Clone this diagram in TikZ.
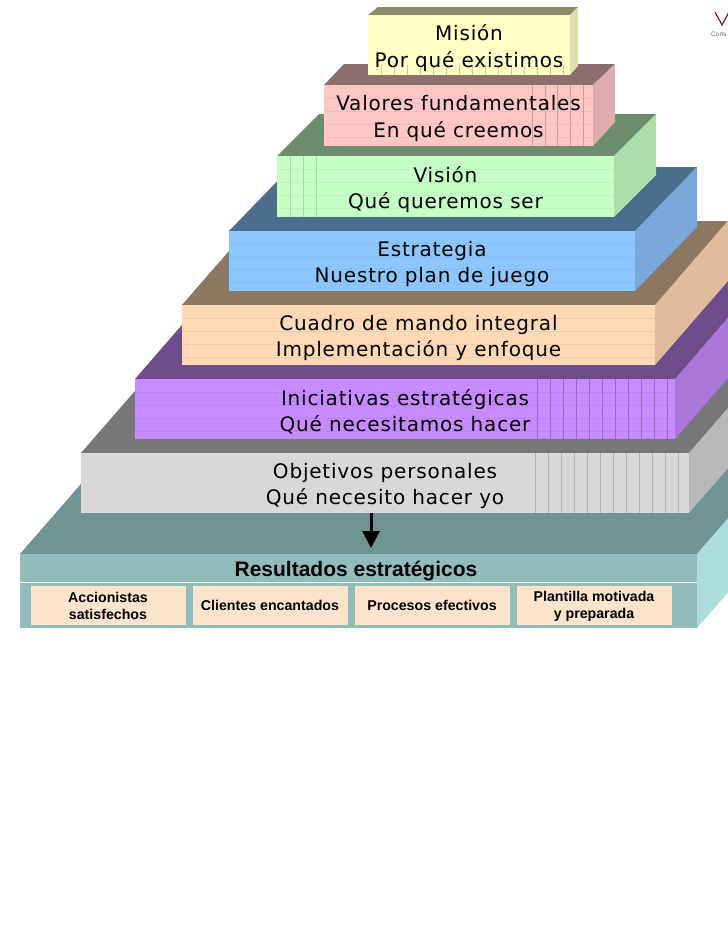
\documentclass[tikz,border=0pt]{standalone}
\usepackage{fontspec}
\usepackage{tikz}
\usetikzlibrary{arrows.meta}
\usetikzlibrary{positioning}
\newfontfamily\bloquefont[LetterSpace=4]{DejaVu Sans}
\newfontfamily\baseFont{Liberation Sans}
\definecolor{misionC}{HTML}{FFFFC6}
\definecolor{valoresC}{HTML}{FFC6C6}
\definecolor{visionC}{HTML}{C6FFC6}
\definecolor{estrategiaC}{HTML}{8CC6FF}
\definecolor{cuadroC}{HTML}{FFD8B4}
\definecolor{iniciativasC}{HTML}{C68CFF}
\definecolor{objetivosC}{HTML}{D8D8D8}
\definecolor{baseC}{HTML}{90BCBC}
\definecolor{ladoC}{HTML}{ACDCDC}
\definecolor{cajaC}{HTML}{FCE4CC}
\tikzstyle{bloque}=[
        inner sep=0pt,
        minimum height=60pt,
        align=center,
        text=black,
        font=\fontsize{20}{26.5}\bloquefont
]
\tikzstyle{texto}=[bloque,yshift=-3pt]
\tikzstyle{caja}=[
        inner sep=0pt,
        minimum height=39pt,
        minimum width=155pt,
        align=center,
        fill=cajaC,
        font=\fontsize{14.2}{17}\baseFont\bfseries
]
\tikzstyle{flecha}=[-{Triangle[length=17pt,width=17pt]},line width=3pt]
\begin{document}
\begin{tikzpicture}[x=1pt,y=-1pt]
\clip (0,0) rectangle (728,943);
%Logo
\draw[line width=1pt,color=black!20!red!50!black] (715,12) -- (722,25) -- (729,12);
\node[inner sep=0pt,anchor=west,text=black!60,font=\fontsize{6.5}{7}\baseFont] (logo) at (711,34) {Cons};
%Base
\fill[color=baseC!78!black] (20,554) -- (107,454) -- (784,454) -- (697,554) -- cycle;
\fill[color=ladoC] (697,554) -- (784,454) -- (784,528) -- (697,628) -- cycle;
\node[inner sep=0pt,minimum width=677pt,minimum height=74pt,fill=baseC] (base) at (358.5,591) {};
\draw[white] (20,582) -- (697,582);
\node[inner sep=0pt,font=\fontsize{21}{23}\baseFont\bfseries] (resultados) at (356,571) {Resultados estratégicos};
\node[caja] (accionistas) at (108,605) {};
\node[caja] (clientes) at (270,605) {Clientes encantados};
\node[caja] (procesos) at (432,605) {Procesos efectivos};
\node[caja] (plantilla) at (594,605) {};
\node[caja,fill=none,yshift=-1pt] (accionistastxt) at (108,605) {Accionistas\\satisfechos};
\node[caja,fill=none,yshift=-1pt] (plantillatxt) at (594,605) {Plantilla motivada\\y preparada};
%Objetivos
\fill[color=objetivosC!55!black] (81,453) -- (168,353) -- (776,353) -- (689,453) -- cycle;
\fill[color=objetivosC!85!black] (689,453) -- (776,353) -- (776,413) -- (689,513) -- cycle;
\node[bloque,minimum width=608pt,fill=objetivosC] (objetivos) at (385,483) {};
\foreach \x in {535,548,...,689} \draw[black!30,line width=.4pt] (\x,453) -- (\x,513);
\node[texto] (objetivostxt) at (385,483) {Objetivos personales\\Qué necesito hacer yo};
%Iniciativas
\fill[color=iniciativasC!55!black] (135,379) -- (221,280) -- (761,280) -- (675,379) -- cycle;
\fill[color=iniciativasC!85!black] (675,379) -- (761,280) -- (761,340) -- (675,439) -- cycle;
\node[bloque,minimum width=540pt,fill=iniciativasC] (iniciativas) at (405,409) {};
\foreach \y in {392,405,418,431} \draw[iniciativasC!95!black,line width=.4pt] (135,\y) -- (675,\y);
\foreach \x in {537,550,...,675} \draw[iniciativasC!75!black,line width=.4pt] (\x,379) -- (\x,439);
\node[texto] (iniciativastxt) at (405,409) {Iniciativas estratégicas\\Qué necesitamos hacer};
%Cuadro
\fill[color=cuadroC!55!black] (182,305) -- (255,221) -- (728,221) -- (655,305) -- cycle;
\fill[color=cuadroC!87!black] (655,305) -- (728,221) -- (728,281) -- (655,365) -- cycle;
\node[bloque,minimum width=473pt,fill=cuadroC] (cuadro) at (418.5,335) {};
\foreach \y in {318,331,344,357} \draw[cuadroC!95!black,line width=.4pt] (182,\y) -- (655,\y);
\node[texto] (cuadrotxt) at (418.5,335) {Cuadro de mando integral\\Implementación y enfoque};
%Estrategia
\fill[color=estrategiaC!55!black] (229,231) -- (291,167) -- (697,167) -- (635,231) -- cycle;
\fill[color=estrategiaC!85!black] (635,231) -- (697,167) -- (697,227) -- (635,291) -- cycle;
\node[bloque,minimum width=406pt,fill=estrategiaC] (estrategia) at (432,261) {};
\foreach \y in {243,257,269,282} \draw[estrategiaC!95!black,line width=.4pt] (229,\y) -- (635,\y);
\node[texto] (estrategiatxt) at (432,261) {Estrategia\\Nuestro plan de juego};
%Vision
\fill[color=visionC!55!black] (277,156) -- (319,114) -- (656,114) -- (614,156) -- cycle;
\fill[color=visionC!87!black] (614,156) -- (656,114) -- (656,175) -- (614,217) -- cycle;
\node[bloque,minimum width=337pt,minimum height=61pt,fill=visionC] (vision) at (445.5,186.5) {};
\foreach \y in {169,182,195,208} \draw[visionC!95!black,line width=.4pt] (277,\y) -- (614,\y);
\foreach \x in {290,303,316} \draw[visionC!85!black,line width=.4pt] (\x,156) -- (\x,217);
\node[texto] (visiontxt) at (445.5,186.5) {Visión\\Qué queremos ser};
%Valores
\fill[color=valoresC!55!black] (324,85) -- (344,64) -- (615,64) -- (593,85) -- cycle;
\fill[color=valoresC!87!black] (593,85) -- (615,64) -- (615,122) -- (593,146) -- cycle;
\node[bloque,minimum width=269pt,minimum height=61pt,fill=valoresC] (valores) at (458.5,115.5) {};
\foreach \y in {98,111,124,137} \draw[valoresC!95!black,line width=.4pt] (324,\y) -- (593,\y);
\foreach \x in {532,545,557,570,583} \draw[valoresC!80!black,line width=.4pt] (\x,85) -- (\x,146);
\node[texto] (valorestxt) at (458.5,115.5) {Valores fundamentales\\En qué creemos};
%Mision
\fill[color=misionC!55!black] (368,15) -- (378,7) -- (578,7) -- (570,15) -- cycle;
\fill[color=misionC!87!black] (570,15) -- (578,7) -- (578,66) -- (570,75) -- cycle;
\node[bloque,minimum width=202pt,fill=misionC] (mision) at (469,45) {};
\foreach \x in {381,394,...,570} \draw[misionC!80!black,line width=.4pt] (\x,65) -- (\x,75);
\node[texto] (misiontxt) at (469,45) {Misión\\Por qué existimos};
%Drawing Edges
\coordinate (punta) at (371,548);
\draw[flecha] (objetivos.south -| punta) -- (punta);
\end{tikzpicture}
\end{document}
